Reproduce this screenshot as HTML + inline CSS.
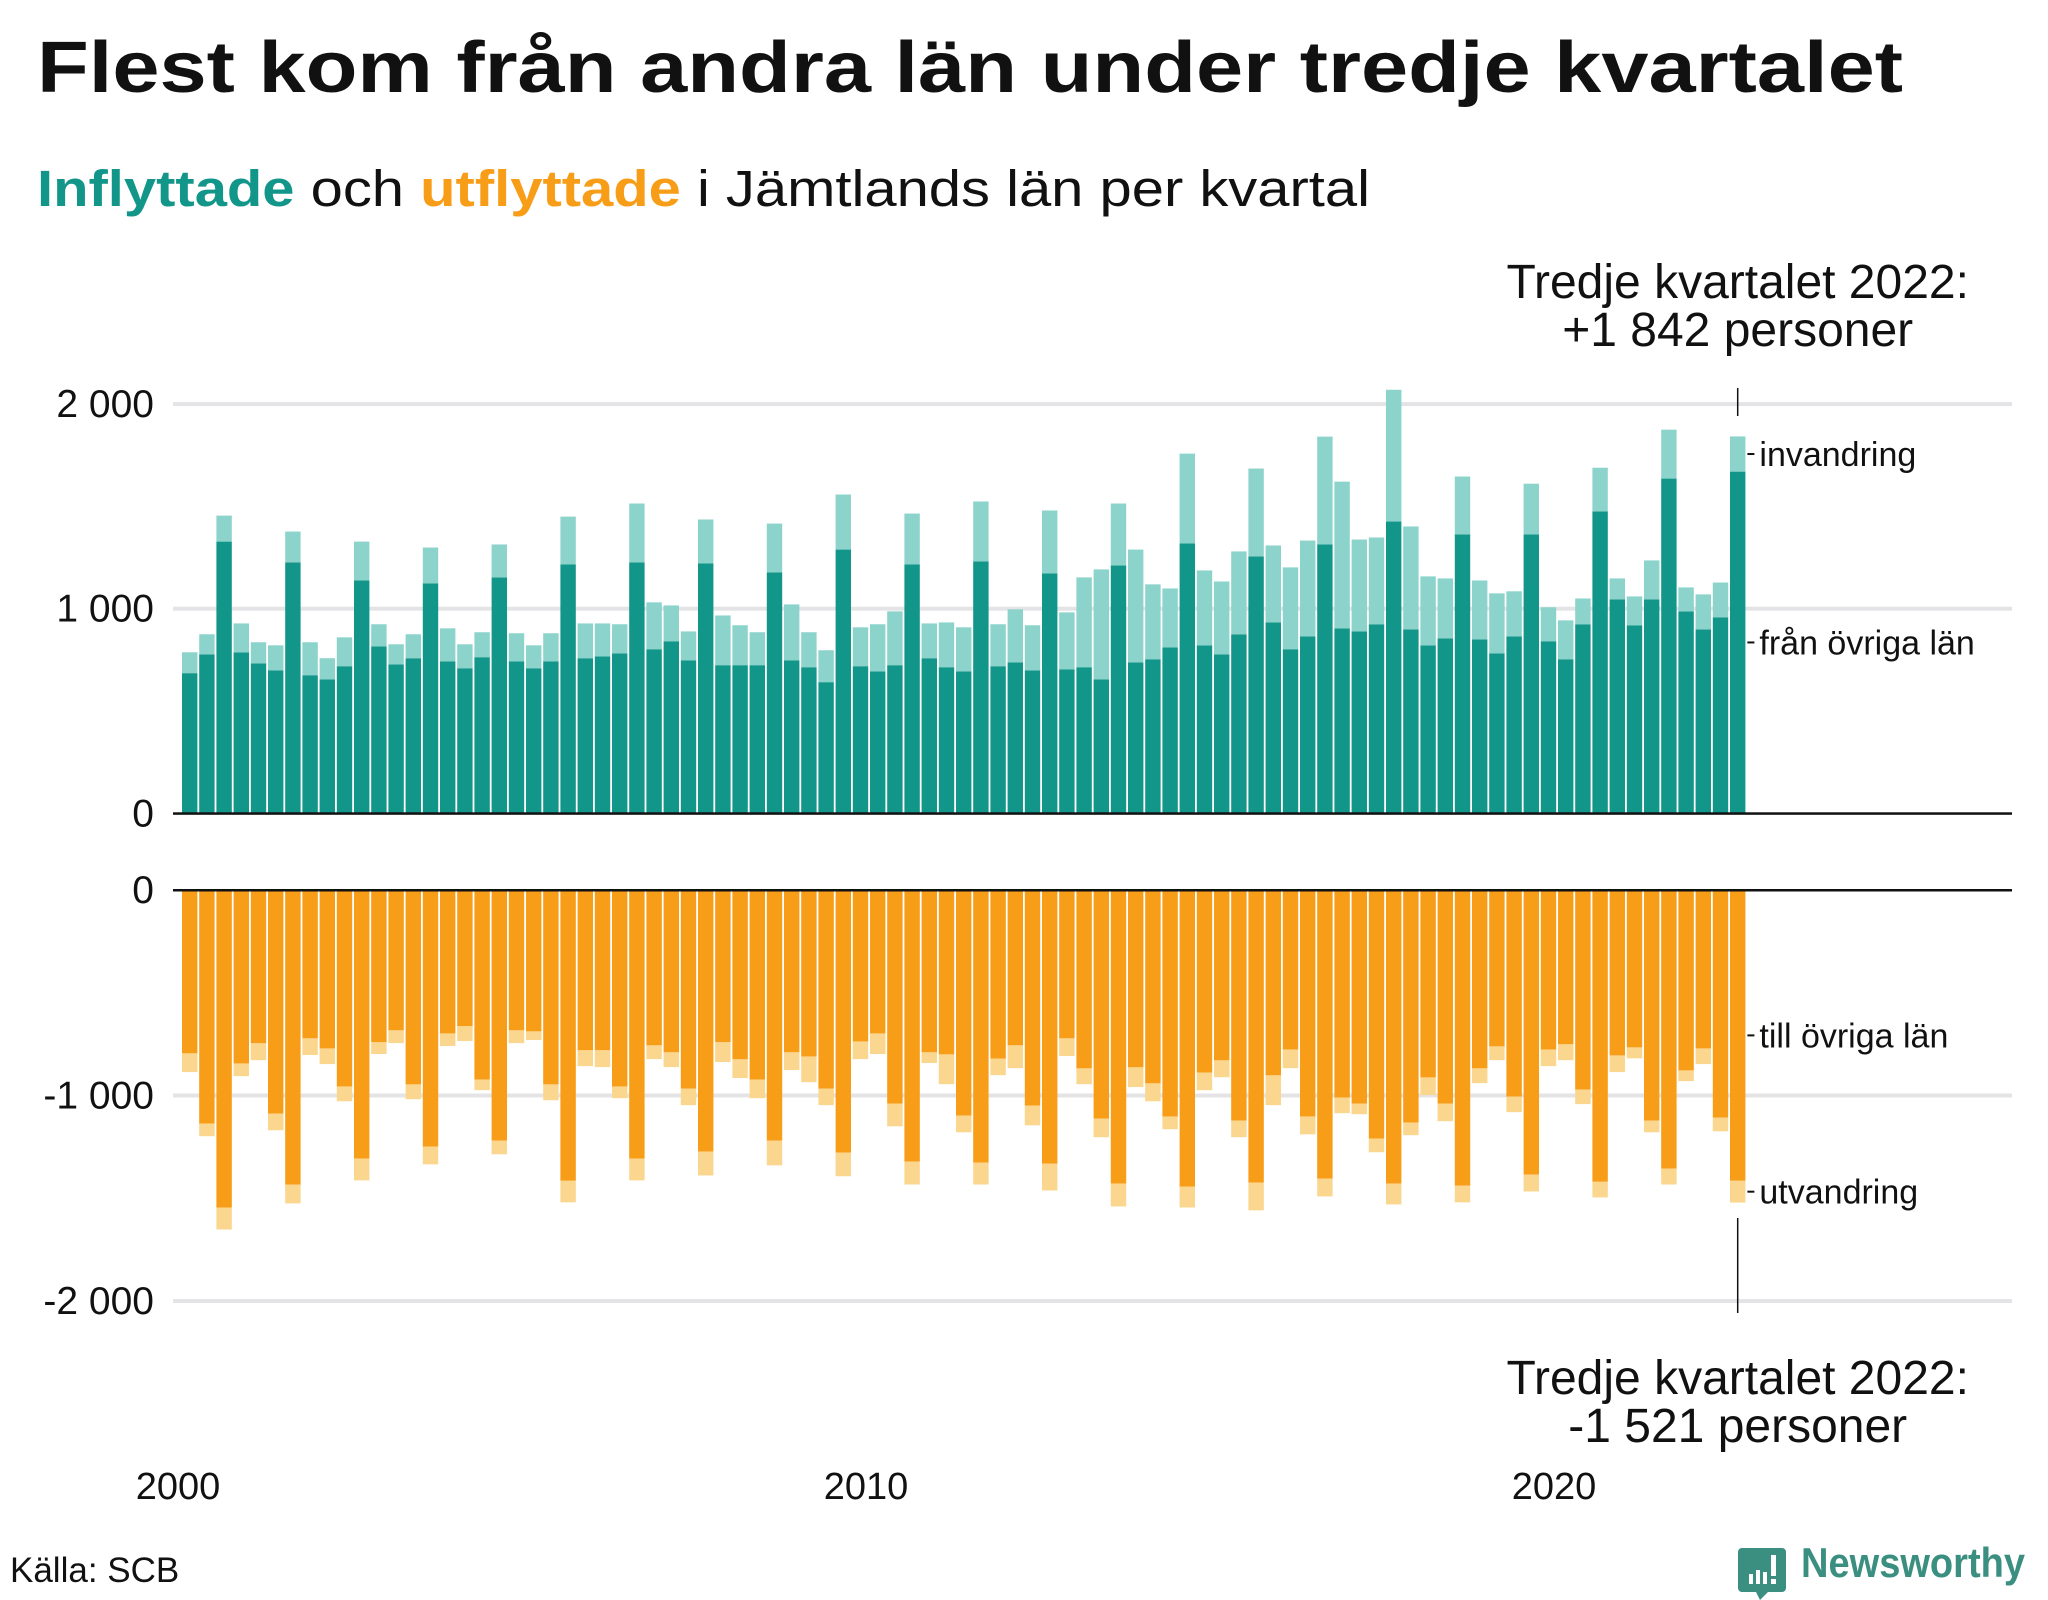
<!DOCTYPE html>
<html lang="sv">
<head>
<meta charset="utf-8">
<title>Flest kom från andra län under tredje kvartalet</title>
<style>
  html, body { margin: 0; padding: 0; background: #ffffff; }
  body { width: 2048px; height: 1600px; overflow: hidden; }
  svg { display: block; font-family: "Liberation Sans", "DejaVu Sans", sans-serif; }
</style>
</head>
<body>
<svg id="chart" width="2048" height="1600" viewBox="0 0 2048 1600">
  <text x="37" y="92" font-size="72" font-weight="bold" fill="#111111" textLength="1866" lengthAdjust="spacingAndGlyphs">Flest kom från andra län under tredje kvartalet</text>
  <text x="37" y="206" font-size="51" fill="#111111" textLength="1333" lengthAdjust="spacingAndGlyphs"><tspan font-weight="bold" fill="#13968a">Inflyttade</tspan> och <tspan font-weight="bold" fill="#f79d17">utflyttade</tspan> i Jämtlands län per kvartal</text>

  <g id="grid"></g>
  <g id="barsTop"></g>
  <g id="barsBot"></g>
  <g id="axes"></g>
  <g id="annot"></g>

  <text x="10" y="1582" font-size="35" fill="#111111">Källa: SCB</text>

  <g>
    <path d="M1742 1548 h40 a4 4 0 0 1 4 4 v36 a4 4 0 0 1 -4 4 h-14 l-8 8 l-4 -8 h-14 a4 4 0 0 1 -4 -4 v-36 a4 4 0 0 1 4 -4 z" fill="#3a8f80"/>
    <rect x="1749" y="1574" width="4" height="10" fill="#ffffff"/>
    <rect x="1756" y="1570" width="4" height="14" fill="#ffffff"/>
    <rect x="1763" y="1572" width="4" height="12" fill="#ffffff"/>
    <rect x="1771" y="1555" width="5" height="21" fill="#ffffff"/>
    <rect x="1771" y="1579" width="5" height="5" fill="#ffffff"/>
    <text x="1801" y="1577" font-size="42" font-weight="bold" fill="#3a8f80" textLength="224" lengthAdjust="spacingAndGlyphs">Newsworthy</text>
  </g>
</svg>
<script>
// ---- data (2000 Q1 .. 2022 Q3) ----
const startYear = 2000;
const inTotal = [787,875,1455,928,836,821,1377,836,758,860,
1328,924,826,875,1299,904,826,885,1314,880,
821,880,1450,928,928,924,1514,1031,1016,889,
1436,967,919,885,1416,1021,885,797,1558,909,
924,987,1465,928,933,909,1524,924,997,919,
1480,982,1153,1192,1514,1289,1119,1099,1758,1187,
1133,1280,1685,1309,1202,1333,1841,1621,1338,1348,
2070,1402,1158,1148,1646,1138,1075,1085,1611,1007,
943,1050,1689,1148,1060,1236,1875,1104,1070,1128,
1842];
const inOvriga = [685,777,1328,787,733,699,1226,675,655,719,
1138,816,728,758,1124,743,709,763,1153,743,
709,743,1216,758,767,782,1226,802,841,748,
1221,724,724,724,1177,748,714,641,1289,719,
694,724,1216,758,714,694,1231,719,738,699,
1172,704,714,655,1211,738,753,811,1319,821,
777,875,1255,933,802,865,1314,904,889,924,
1426,899,821,855,1363,850,782,865,1363,841,
753,924,1475,1046,919,1046,1636,987,899,958,
1670];
const utOvriga = [795,1137,1546,844,746,1088,1434,722,771,956,
1307,741,683,946,1249,698,663,922,1220,683,
688,946,1415,780,780,956,1307,756,790,966,
1273,741,824,922,1220,790,810,966,1278,737,
698,1039,1322,790,800,1098,1327,820,756,1049,
1332,722,868,1112,1429,863,941,1102,1444,888,
829,1122,1424,902,776,1102,1405,1010,1039,1210,
1429,1132,912,1039,1439,868,761,1005,1385,776,
751,971,1420,805,766,1122,1356,878,771,1107,
1415];
const utTotal = [886,1198,1652,906,828,1169,1525,803,847,1028,
1413,798,745,1018,1335,759,735,974,1286,745,
730,1023,1520,857,862,1013,1413,823,862,1047,
1389,837,915,1013,1340,876,935,1047,1393,823,
798,1150,1433,842,945,1179,1433,901,867,1145,
1462,808,945,1203,1540,959,1028,1164,1545,974,
911,1203,1559,1047,867,1189,1491,1086,1091,1276,
1530,1193,998,1125,1520,940,828,1081,1467,857,
828,1042,1496,886,819,1179,1433,930,847,1174,
1521];
const topTicks = [0, 1000, 2000];
const topTickLabels = ["0", "1 000", "2 000"];
const botTicks = [0, 1000, 2000];
const botTickLabels = ["0", "-1 000", "-2 000"];
const xYears = [2000, 2010, 2020];
const xYearLabels = ["2000", "2010", "2020"];
const rightLabels = ["invandring", "från övriga län", "till övriga län", "utvandring"];

// ---- scales ----
const NS = "http://www.w3.org/2000/svg";
const X0 = 182, PITCH = 17.2, BW = 15.4;
const GRID_L = 173, GRID_R = 2012;
function xBar(i) { return X0 + i * PITCH; }
function xYear(y) { return X0 + (y - startYear) * 4 * PITCH - 4; }
function yTop(v) { return 813.3 - v * 0.2046; }
function yBot(v) { return 890 + v * 0.2055; }

function mk(tag, attrs, parent) {
  const el = document.createElementNS(NS, tag);
  for (const k in attrs) el.setAttribute(k, attrs[k]);
  parent.appendChild(el);
  return el;
}

const grid = document.getElementById('grid');
const axes = document.getElementById('axes');
const bt = document.getElementById('barsTop');
const bb = document.getElementById('barsBot');
const an = document.getElementById('annot');

topTicks.forEach((t, k) => {
  if (t !== 0) {
    const g = mk('rect', {x: GRID_L, y: yTop(t) - 2, width: GRID_R - GRID_L, height: 4, fill: '#e4e4e7'}, grid);
    
    
  }
  const lb = mk('text', {x: 154, y: yTop(t) + 13, 'font-size': 39, 'text-anchor': 'end', fill: '#111'}, axes);
  lb.textContent = topTickLabels[k];
  
  
});
botTicks.forEach((t, k) => {
  if (t !== 0) {
    const g = mk('rect', {x: GRID_L, y: yBot(t) - 2, width: GRID_R - GRID_L, height: 4, fill: '#e4e4e7'}, grid);
    
    
  }
  const lb = mk('text', {x: 154, y: yBot(t) + 13, 'font-size': 39, 'text-anchor': 'end', fill: '#111'}, axes);
  lb.textContent = botTickLabels[k];
  
  
});

for (let i = 0; i < inTotal.length; i++) {
  const x = xBar(i);
  const d = mk('rect', {x: x, y: yTop(inOvriga[i]), width: BW, height: yTop(0) - yTop(inOvriga[i]), fill: '#13968a'}, bt);
  
  
  const l = mk('rect', {x: x, y: yTop(inTotal[i]), width: BW, height: yTop(inOvriga[i]) - yTop(inTotal[i]), fill: '#8bd3cb'}, bt);
  
  

  const d2 = mk('rect', {x: x, y: yBot(0), width: BW, height: yBot(utOvriga[i]) - yBot(0), fill: '#f79d17'}, bb);
  
  
  const l2 = mk('rect', {x: x, y: yBot(utOvriga[i]), width: BW, height: yBot(utTotal[i]) - yBot(utOvriga[i]), fill: '#fbd68e'}, bb);
  
  
}

const z1 = mk('rect', {x: GRID_L, y: yTop(0) - 1, width: GRID_R - GRID_L, height: 2.5, fill: '#111'}, axes);


const z2 = mk('rect', {x: GRID_L, y: yBot(0) - 1, width: GRID_R - GRID_L, height: 2.5, fill: '#111'}, axes);



xYears.forEach((y, k) => {
  const t = mk('text', {x: xYear(y), y: 1499, 'font-size': 38, 'text-anchor': 'middle', fill: '#111'}, axes);
  t.textContent = xYearLabels[k];
  
  
});

const n = inTotal.length - 1;
const cx = xBar(n) + BW / 2;
const labY = [
  yTop((inTotal[n] + inOvriga[n]) / 2),
  yTop(inOvriga[n] / 2),
  yBot(utOvriga[n] / 2),
  yBot((utTotal[n] + utOvriga[n]) / 2)
];
labY.forEach((y, k) => {
  const tk = mk('line', {x1: xBar(n) + BW + 2, x2: xBar(n) + BW + 9, y1: y, y2: y, stroke: '#111', 'stroke-width': 2}, an);
  
  
  const t = mk('text', {x: xBar(n) + BW + 14, y: y + 12, 'font-size': 34, fill: '#111'}, an);
  t.textContent = rightLabels[k];
  
  
});

const v1 = mk('line', {x1: cx, x2: cx, y1: 388, y2: 416, stroke: '#111', 'stroke-width': 1.5}, an);


const v2 = mk('line', {x1: cx, x2: cx, y1: 1218, y2: 1313, stroke: '#111', 'stroke-width': 1.5}, an);



const annTexts = [
  ["Tredje kvartalet 2022:", 298, 'top-annotation-line1'],
  ["+1 842 personer", 346, 'top-annotation-line2'],
  ["Tredje kvartalet 2022:", 1394, 'bottom-annotation-line1'],
  ["-1 521 personer", 1442, 'bottom-annotation-line2']
];
annTexts.forEach(a => {
  const t = mk('text', {x: cx, y: a[1], 'font-size': 48, 'text-anchor': 'middle', fill: '#111'}, an);
  t.textContent = a[0];
  
  
});
</script>
</body>
</html>
